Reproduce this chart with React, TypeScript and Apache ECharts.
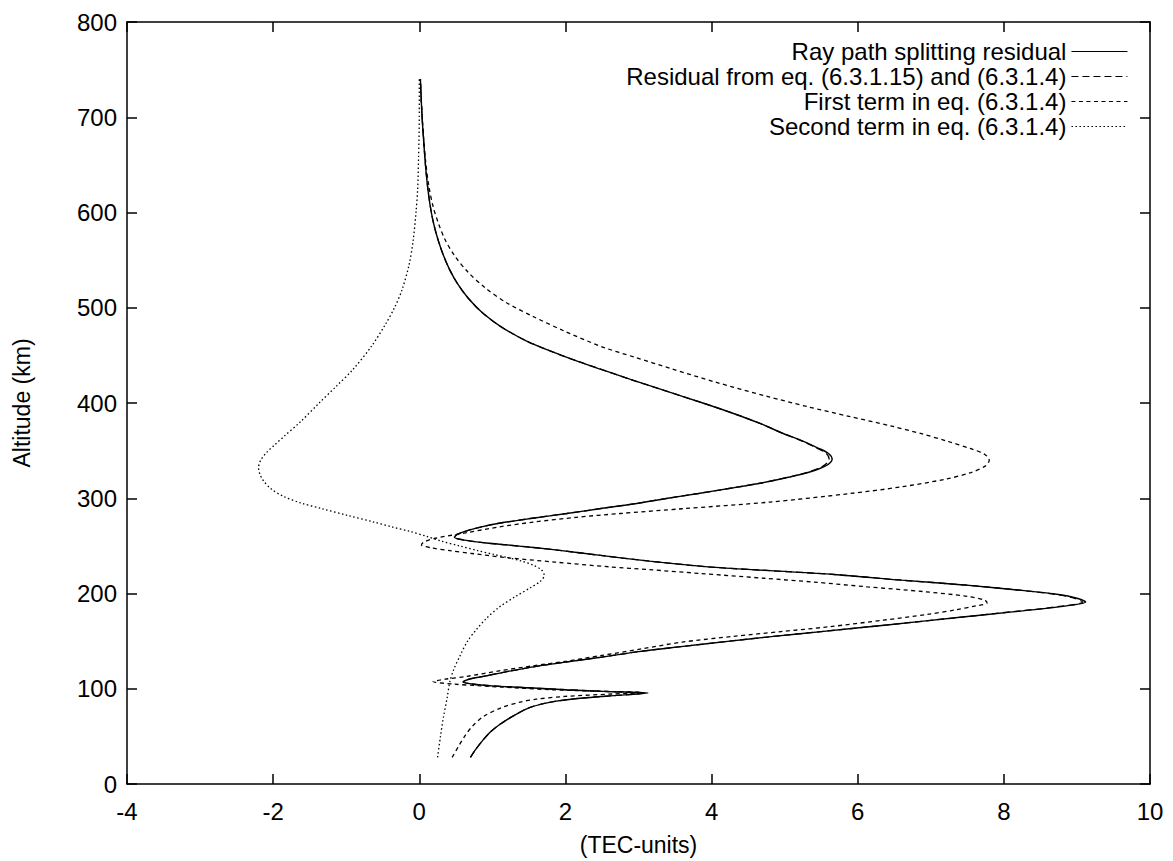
import React, { useEffect, useRef } from "react";
import * as echarts from "echarts";

// Each profile is a list of [TEC value, altitude in km], ordered by altitude.
const rayPathResidual: [number, number][] = [
  [0.7, 28], [0.76, 35], [0.86, 45], [0.98, 55], [1.11, 63], [1.3, 72], [1.5, 80],
  [1.8, 86], [2.2, 90], [2.7, 93], [3.13, 95.5], [2.6, 97], [2.0, 99], [1.5, 101],
  [1.0, 103], [0.72, 105], [0.6, 107], [0.68, 110], [0.88, 113], [1.2, 118],
  [1.56, 123], [2.0, 128], [2.48, 133], [3.0, 139], [3.55, 144], [4.25, 150],
  [4.85, 155], [5.5, 160], [6.4, 167], [7.4, 175], [8.15, 181], [8.75, 186],
  [9.12, 191], [9.0, 195], [8.75, 199], [8.15, 204], [7.45, 209], [6.6, 214],
  [5.67, 220], [4.8, 224], [3.95, 228], [3.15, 234], [2.48, 240], [1.95, 245],
  [1.6, 248], [1.2, 251], [0.92, 253], [0.62, 256], [0.48, 259], [0.52, 262],
  [0.66, 266], [0.85, 270], [1.11, 274], [1.55, 279], [2.02, 284], [2.47, 289],
  [2.93, 294], [3.4, 300], [3.82, 305], [4.3, 311], [4.68, 316], [5.05, 322],
  [5.32, 327], [5.56, 334], [5.65, 341], [5.6, 347], [5.45, 353], [5.25, 360],
  [4.98, 368], [4.68, 378], [4.3, 389], [3.88, 400], [3.32, 414], [2.88, 425],
  [2.5, 435], [2.16, 444], [1.88, 452], [1.47, 465], [1.12, 480], [0.86, 495],
  [0.67, 510], [0.525, 525], [0.415, 540], [0.33, 555], [0.262, 570], [0.207, 585],
  [0.165, 600], [0.125, 620], [0.09, 645], [0.06, 675], [0.035, 705], [0.015, 740],
];

const residualFromEquations: [number, number][] = [
  [0.7, 28], [0.76, 35], [0.86, 45], [0.98, 55], [1.11, 63], [1.3, 72], [1.5, 80],
  [1.8, 86], [2.2, 90], [2.7, 93], [3.1, 95.5], [2.6, 97], [2.0, 99], [1.5, 101],
  [1.0, 103], [0.72, 105], [0.6, 107], [0.68, 110], [0.88, 113], [1.2, 118],
  [1.56, 123], [2.0, 128], [2.48, 133], [3.0, 139], [3.55, 144], [4.25, 150],
  [4.85, 155], [5.5, 160], [6.4, 167], [7.4, 175], [8.13, 181], [8.72, 186],
  [9.08, 191], [8.97, 195], [8.72, 199], [8.15, 204], [7.45, 209], [6.6, 214],
  [5.67, 220], [4.8, 224], [3.95, 228], [3.15, 234], [2.48, 240], [1.95, 245],
  [1.6, 248], [1.2, 251], [0.92, 253], [0.62, 256], [0.48, 259], [0.52, 262],
  [0.66, 266], [0.85, 270], [1.11, 274], [1.55, 279], [2.02, 284], [2.47, 289],
  [2.93, 294], [3.4, 300], [3.82, 305], [4.3, 311], [4.68, 316], [5.04, 322],
  [5.3, 327], [5.53, 334], [5.61, 341], [5.57, 347], [5.43, 353], [5.24, 360],
  [4.98, 368], [4.68, 378], [4.3, 389], [3.88, 400], [3.32, 414], [2.88, 425],
  [2.5, 435], [2.16, 444], [1.88, 452], [1.47, 465], [1.12, 480], [0.86, 495],
  [0.67, 510], [0.525, 525], [0.415, 540], [0.33, 555], [0.262, 570], [0.207, 585],
  [0.165, 600], [0.125, 620], [0.09, 645], [0.06, 675], [0.035, 705], [0.015, 740],
];

const firstTerm: [number, number][] = [
  [0.45, 28], [0.54, 40], [0.62, 50], [0.72, 60], [0.88, 71], [1.12, 80],
  [1.38, 86], [1.6, 89], [2.0, 92], [2.65, 94.5], [3.05, 96], [2.4, 97.5],
  [1.8, 99], [1.3, 101], [0.85, 103], [0.45, 105], [0.19, 107.5], [0.35, 110],
  [0.65, 113], [1.11, 119], [1.55, 124], [2.02, 129], [2.5, 135], [3.05, 142],
  [3.6, 149], [4.3, 155], [4.95, 160], [5.6, 165], [6.35, 172], [6.95, 178],
  [7.35, 183], [7.62, 187], [7.77, 190], [7.74, 193], [7.5, 197], [6.9, 202],
  [6.13, 207], [5.4, 212], [4.72, 216], [3.85, 221], [3.15, 225], [2.6, 228],
  [1.85, 233], [1.15, 238], [0.72, 242], [0.42, 245], [0.16, 248], [0.03, 251],
  [0.06, 254], [0.22, 258], [0.66, 264], [1.1, 270], [1.56, 275], [2.15, 280],
  [2.75, 284], [3.6, 289], [4.8, 296], [5.9, 305], [6.6, 312], [7.2, 320],
  [7.55, 327], [7.75, 334], [7.8, 340], [7.74, 346], [7.55, 352], [7.22, 360],
  [6.86, 368], [6.45, 376], [5.88, 386], [5.32, 396], [4.76, 407], [4.05, 422],
  [3.45, 436], [2.95, 448], [2.5, 459], [2.0, 475], [1.58, 490], [1.2, 505],
  [0.9, 521], [0.66, 538], [0.48, 555], [0.35, 572], [0.26, 589], [0.19, 606],
  [0.13, 628], [0.085, 655], [0.05, 688], [0.028, 718], [0.015, 740],
];

const secondTerm: [number, number][] = [
  [0.25, 28], [0.29, 50], [0.33, 70], [0.38, 90], [0.42, 108], [0.47, 120],
  [0.56, 135], [0.66, 150], [0.78, 162], [0.92, 174], [1.1, 186], [1.32, 197],
  [1.52, 206], [1.66, 213], [1.71, 219], [1.67, 225], [1.55, 230], [1.4, 234],
  [1.25, 237], [1.02, 241], [0.8, 245], [0.55, 250], [0.3, 255], [0.1, 260],
  [-0.12, 265], [-0.38, 270], [-0.62, 275], [-0.98, 282], [-1.33, 289],
  [-1.62, 295], [-1.86, 302], [-2.03, 310], [-2.13, 318], [-2.18, 325],
  [-2.2, 332], [-2.17, 340], [-2.09, 348], [-1.98, 356], [-1.85, 365],
  [-1.63, 380], [-1.37, 400], [-1.13, 418], [-0.91, 435], [-0.65, 460],
  [-0.46, 483], [-0.34, 500], [-0.24, 518], [-0.14, 545], [-0.085, 570],
  [-0.045, 600], [-0.022, 625], [-0.01, 657], [0, 700], [0, 740],
];

const seriesNames = [
  "Ray path splitting residual",
  "Residual from eq. (6.3.1.15) and (6.3.1.4)",
  "First term in eq. (6.3.1.4)",
  "Second term in eq. (6.3.1.4)",
];

const xTicks = { min: -4, max: 10, interval: 2 };
const yTicks = { min: 0, max: 800, interval: 100 };

const FONT = "Liberation Sans";

export default function App() {
  const ref = useRef<HTMLDivElement>(null);

  useEffect(() => {
    if (!ref.current) return;
    document.body.style.margin = "0";
    const chart = echarts.init(ref.current, undefined, { renderer: "svg" });

    const frameLine = { show: true, onZero: false, lineStyle: { color: "#000", width: 1.5 } };
    const innerTick = { show: true, inside: true, length: 10, lineStyle: { color: "#000", width: 1.5 } };
    const labelStyle = { color: "#000", fontSize: 24, fontFamily: FONT };

    const lineSeries = (
      name: string,
      data: [number, number][],
      type: any,
      width: number,
      z: number
    ) => ({
      name,
      type: "line",
      data,
      xAxisIndex: 0,
      yAxisIndex: 0,
      showSymbol: false,
      symbol: "none",
      smooth: 0.3,
      z,
      lineStyle: { color: "#000", width, type },
      itemStyle: { color: "#000" },
    });

    chart.setOption({
      animation: false,
      backgroundColor: "#fff",
      grid: { left: 127, right: 23, top: 22, bottom: 70, containLabel: false },
      legend: {
        orient: "vertical",
        align: "right",
        right: 40,
        top: 34,
        itemWidth: 56,
        itemHeight: 14,
        itemGap: 0,
        selectedMode: false,
        itemStyle: { opacity: 0 },
        lineStyle: { width: 1.1 },
        textStyle: { color: "#000", fontSize: 24, fontFamily: FONT, lineHeight: 25 },
        data: seriesNames,
      },
      xAxis: [
        {
          type: "value",
          position: "bottom",
          ...xTicks,
          name: "(TEC-units)",
          nameLocation: "middle",
          nameGap: 49,
          nameTextStyle: { color: "#000", fontSize: 23, fontFamily: FONT },
          axisLine: frameLine,
          axisTick: innerTick,
          axisLabel: { ...labelStyle, margin: 15 },
          splitLine: { show: false },
        },
        {
          type: "value",
          position: "top",
          ...xTicks,
          axisLine: frameLine,
          axisTick: innerTick,
          axisLabel: { show: false },
          splitLine: { show: false },
        },
      ],
      yAxis: [
        {
          type: "value",
          position: "left",
          ...yTicks,
          name: "Altitude (km)",
          nameLocation: "middle",
          nameGap: 94,
          nameTextStyle: { color: "#000", fontSize: 23, fontFamily: FONT },
          axisLine: frameLine,
          axisTick: innerTick,
          axisLabel: { ...labelStyle, margin: 10 },
          splitLine: { show: false },
        },
        {
          type: "value",
          position: "right",
          ...yTicks,
          axisLine: frameLine,
          axisTick: innerTick,
          axisLabel: { show: false },
          splitLine: { show: false },
        },
      ],
      series: [
        lineSeries(seriesNames[0], rayPathResidual, "solid", 1.4, 4),
        lineSeries(seriesNames[1], residualFromEquations, [7, 4], 1.3, 3),
        lineSeries(seriesNames[2], firstTerm, [4, 3.5], 1.3, 2),
        lineSeries(seriesNames[3], secondTerm, [1.5, 2.5], 1.3, 1),
      ],
    });

    return () => chart.dispose();
  }, []);

  return <div ref={ref} style={{ width: 1173, height: 861 }} />;
}
